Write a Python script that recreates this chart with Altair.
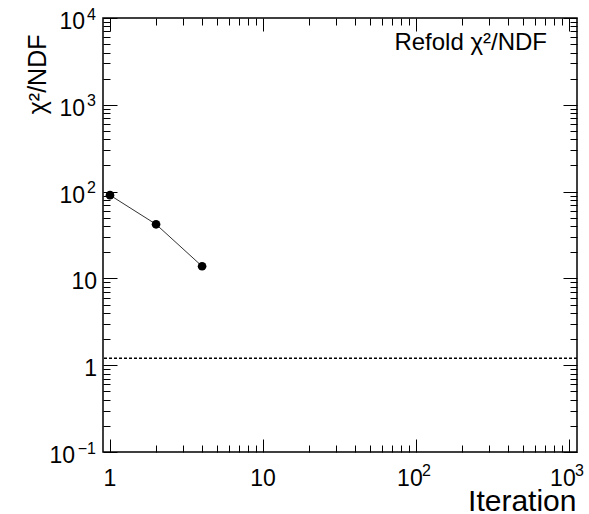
import altair as alt
import pandas as pd

# ---- data ----
iterations = [1, 2, 4]
chi2_ndf = [91, 42, 13.8]
reference_level = [1.2]
legend_text = ["Refold χ²/NDF"]

x_major = [1, 10, 100, 1000]
x_major_base = ["1", "10", "10", "10"]
x_major_exp = ["", "", "2", "3"]
x_minor = [k * 10 ** d for d in range(0, 3) for k in range(2, 10)]

y_major = [0.1, 1, 10, 100, 1000, 10000]
y_major_base = ["10", "1", "10", "10", "10", "10"]
y_major_exp = ["−1", "", "", "2", "3", "4"]
y_minor = [round(k * 10.0 ** d, 6) for d in range(-1, 4) for k in range(2, 10)]

W, H = 474, 434
FONT = "Liberation Sans"
LABEL_SIZE, EXP_SIZE = 23, 16

xs = alt.Scale(type="log", domain=[0.9, 1130])
ys = alt.Scale(type="log", domain=[0.1, 10000])

df = pd.DataFrame({"iteration": iterations, "chi2": chi2_ndf})
base = alt.Chart(df)

line = base.mark_line(color="#333333", strokeWidth=1).encode(
    x=alt.X("iteration:Q", scale=xs, axis=None),
    y=alt.Y("chi2:Q", scale=ys, axis=None),
)
pts = base.mark_point(filled=True, color="black", size=75, opacity=1).encode(
    x=alt.X("iteration:Q", scale=xs, axis=None),
    y=alt.Y("chi2:Q", scale=ys, axis=None),
)
ref = alt.Chart(pd.DataFrame({"level": reference_level})).mark_rule(
    color="black", strokeWidth=1.5, strokeDash=[3, 2]
).encode(y=alt.Y("level:Q", scale=ys, axis=None))

txt = alt.Chart(pd.DataFrame({"t": legend_text})).mark_text(
    align="right", baseline="alphabetic", font=FONT, fontSize=24, color="black"
).encode(text="t:N", x=alt.value(444), y=alt.value(32))

layers = [ref, line, pts, txt]

# ---- tick labels: base ("10", "1") plus superscript exponent ----
y_base_right = {0: -6, 1: -18, 2: -28}   # right edge of the base text, by exponent length
for L in sorted(set(len(e) for e in y_major_exp)):
    rows = [(v, b, e) for v, b, e in zip(y_major, y_major_base, y_major_exp) if len(e) == L]
    d = pd.DataFrame({"v": [r[0] for r in rows], "b": [r[1] for r in rows]})
    layers.append(alt.Chart(d).mark_text(
        align="right", baseline="alphabetic", font=FONT, fontSize=LABEL_SIZE,
        color="black", dy=11
    ).encode(text="b:N", x=alt.value(y_base_right[L]), y=alt.Y("v:Q", scale=ys, axis=None)))

y_exp_df = pd.DataFrame({"v": [v for v, e in zip(y_major, y_major_exp) if e],
                         "e": [e for e in y_major_exp if e]})
layers.append(alt.Chart(y_exp_df).mark_text(
    align="right", baseline="alphabetic", font=FONT, fontSize=EXP_SIZE, color="black", dy=1.5
).encode(text="e:N", x=alt.value(-7), y=alt.Y("v:Q", scale=ys, axis=None)))

x_base_dx = {0: 0, 1: -6}
for L in sorted(set(len(e) for e in x_major_exp)):
    rows = [(v, b, e) for v, b, e in zip(x_major, x_major_base, x_major_exp) if len(e) == L]
    d = pd.DataFrame({"v": [r[0] for r in rows], "b": [r[1] for r in rows]})
    layers.append(alt.Chart(d).mark_text(
        align="center", baseline="alphabetic", font=FONT, fontSize=LABEL_SIZE,
        color="black", dx=x_base_dx[L]
    ).encode(text="b:N", x=alt.X("v:Q", scale=xs, axis=None), y=alt.value(H + 34)))

x_exp_df = pd.DataFrame({"v": [v for v, e in zip(x_major, x_major_exp) if e],
                         "e": [e for e in x_major_exp if e]})
layers.append(alt.Chart(x_exp_df).mark_text(
    align="left", baseline="alphabetic", font=FONT, fontSize=EXP_SIZE, color="black", dx=6
).encode(text="e:N", x=alt.X("v:Q", scale=xs, axis=None), y=alt.value(H + 24)))


def axis_layer(channel, axis):
    if channel == "x":
        enc = dict(x=alt.X("iteration:Q", scale=xs, axis=axis),
                   y=alt.Y("chi2:Q", scale=ys, axis=None))
    else:
        enc = dict(x=alt.X("iteration:Q", scale=xs, axis=None),
                   y=alt.Y("chi2:Q", scale=ys, axis=axis))
    return base.mark_point(opacity=0).encode(**enc)


def tick_axis(orient, offset, values, size):
    return alt.Axis(orient=orient, offset=offset, values=values, tickSize=size,
                    ticks=True, labels=False, domain=False, grid=False, title=None,
                    tickColor="black", tickWidth=1)


# axis titles
layers.append(axis_layer("x", alt.Axis(
    orient="bottom", values=x_major, ticks=False, tickSize=0, labels=False,
    domain=False, grid=False,
    title="Iteration", titleFont=FONT, titleFontSize=30, titleFontWeight="normal",
    titleColor="black", titleAlign="right", titleBaseline="alphabetic",
    titleAnchor="end", titleX=W - 1, titleY=58)))
layers.append(axis_layer("y", alt.Axis(
    orient="left", values=y_major, ticks=False, tickSize=0, labels=False,
    domain=False, grid=False,
    title="χ²/NDF", titleFont=FONT, titleFontSize=25, titleFontWeight="normal",
    titleColor="black", titleAngle=270, titleAlign="right",
    titleBaseline="alphabetic", titleX=-58, titleY=16)))

# inner ticks on all four sides
for vals, size in [(x_major, 13), (x_minor, 7)]:
    layers.append(axis_layer("x", tick_axis("top", -H, vals, size)))     # bottom edge, pointing up
    layers.append(axis_layer("x", tick_axis("bottom", -H, vals, size)))  # top edge, pointing down
for vals, size in [(y_major, 14), (y_minor, 7)]:
    layers.append(axis_layer("y", tick_axis("right", -W, vals, size)))   # left edge, pointing right
    layers.append(axis_layer("y", tick_axis("left", -W, vals, size)))    # right edge, pointing left

chart = alt.layer(*layers).resolve_axis(x="independent", y="independent").properties(
    width=W, height=H,
    autosize=alt.AutoSizeParams(type="none"),
    padding={"left": 103, "top": 18, "right": 12, "bottom": 62},
    background="white",
).configure_view(stroke="black", strokeWidth=1.5)

chart.save("out.html", embed_options={"renderer": "svg", "actions": False})
